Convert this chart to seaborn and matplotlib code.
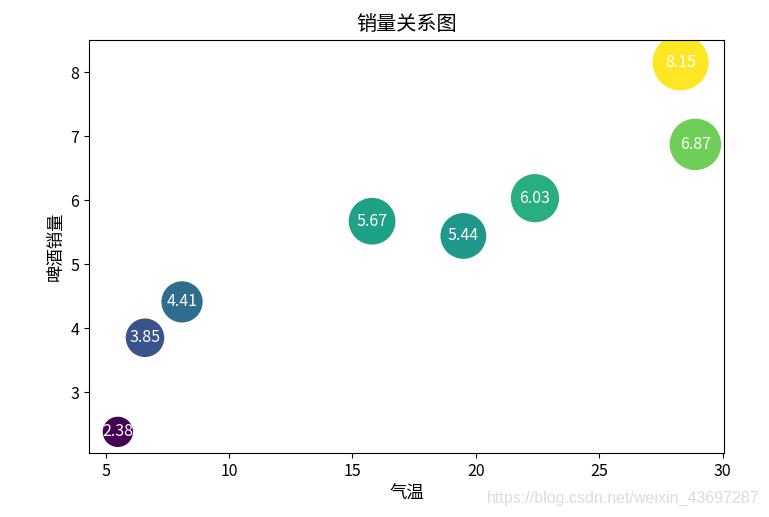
import matplotlib
matplotlib.use("Agg")
import matplotlib.pyplot as plt
import seaborn as sns
import pandas as pd

temperature = [5.5, 6.6, 8.1, 15.8, 19.5, 22.4, 28.3, 28.9]
sales = [2.38, 3.85, 4.41, 5.67, 5.44, 6.03, 8.15, 6.87]

title = "销量关系图"
xlabel = "气温"
ylabel = "啤酒销量"
watermark = "https://blog.csdn.net/weixin_43697287"

plt.rcParams['font.family'] = ['Noto Sans CJK SC', 'DejaVu Sans']
plt.rcParams['axes.unicode_minus'] = False

df = pd.DataFrame({"temp": temperature, "sales": sales})

fig = plt.figure(figsize=(7.69, 5.17), dpi=100)
ax = fig.add_axes([0.1157, 0.1238, 0.8258, 0.7988])

sns.scatterplot(data=df, x="temp", y="sales", hue="sales", palette="viridis",
                size="sales", sizes=(2.38 * 200, 8.15 * 200), linewidth=0,
                legend=False, ax=ax, alpha=1)

for t, s in zip(temperature, sales):
    ax.text(t, s, f"{s:.2f}", color="white", ha="center", va="center",
            fontsize=11.5)

ax.set_xlim(4.33, 30.06)
ax.set_ylim(2.05, 8.5)
ax.set_xticks([5, 10, 15, 20, 25, 30])
ax.set_yticks([3, 4, 5, 6, 7, 8])
ax.tick_params(labelsize=11.5)
ax.set_title(title, fontsize=14.5, pad=7)
ax.set_xlabel(xlabel, fontsize=12.5)
ax.set_ylabel(ylabel, fontsize=12.5)

fig.text(0.988, 0.022, watermark, ha="right", va="bottom", fontsize=11.5,
         color="#dcdcdc", family=['Liberation Sans', 'DejaVu Sans'])

fig.savefig("out.png", dpi=100)
